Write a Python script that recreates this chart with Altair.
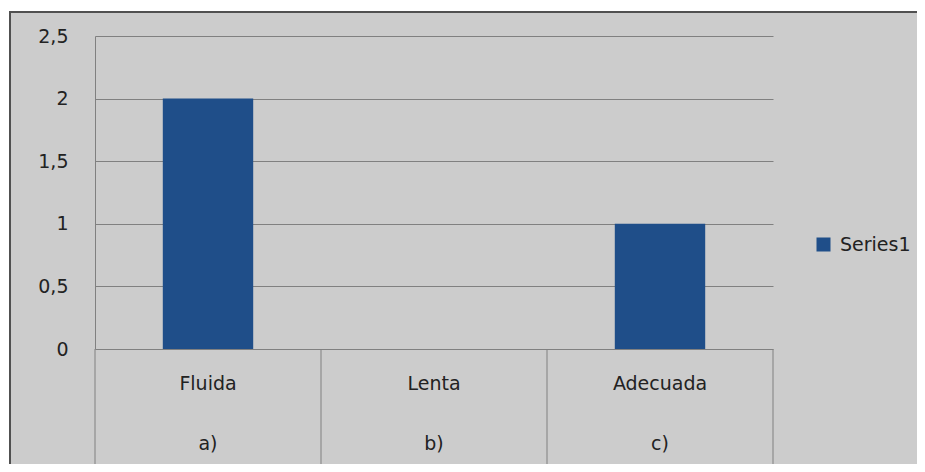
import altair as alt
import pandas as pd

cats = ["Fluida", "Lenta", "Adecuada"]
letters = ["a)", "b)", "c)"]
values = [2, 0, 1]
series = "Series1"
y_ticks = [0, 0.5, 1, 1.5, 2, 2.5]

BAR = "#1F4E89"
GRID = "#808080"
BG = "#CCCCCC"
FONT = "DejaVu Sans"

labels = [c + "\n" + l for c, l in zip(cats, letters)]
df = pd.DataFrame({"label": labels, "value": values, "series": [series] * 3})
order = labels

W, H = 678, 313
xs = alt.Scale(domain=order, paddingInner=0, paddingOuter=0)

x_axis = alt.Axis(title=None, domain=False, ticks=False, tickSize=0, grid=False,
                  labelExpr="split(datum.label, '\\n')", labelLineHeight=60,
                  labelBaseline="middle", labelPadding=34, labelAngle=0,
                  labelFontSize=19, labelFont=FONT, labelColor="#222222")
y_axis = alt.Axis(title=None, values=y_ticks, tickSize=0, ticks=False, domain=True,
                  domainColor=GRID, domainWidth=1, gridColor=GRID, gridWidth=1,
                  labelExpr="replace(toString(datum.value), '.', ',')",
                  labelPadding=27, labelFontSize=19, labelFont=FONT, labelColor="#222222")

base = alt.Chart(df)

bars = base.mark_bar(width=alt.RelativeBandSize(0.4)).encode(
    x=alt.X("label:N", scale=xs, sort=order, axis=x_axis),
    y=alt.Y("value:Q", scale=alt.Scale(domain=[0, 2.5], nice=False), axis=y_axis),
    color=alt.Color("series:N", scale=alt.Scale(range=[BAR]),
                    legend=alt.Legend(title=None, orient="none", legendX=719, legendY=199,
                                      symbolType="square", symbolSize=196, symbolStrokeWidth=0,
                                      labelFontSize=19, labelFont=FONT, labelColor="#222222",
                                      padding=0, labelOffset=7)),
)

seps = base.mark_rule(color=GRID, strokeWidth=1).encode(
    x=alt.X("label:N", scale=xs, sort=order, bandPosition=0),
    y=alt.value(H), y2=alt.value(H + 119),
)
right_sep = alt.Chart(df[df["label"] == labels[-1]]).mark_rule(color=GRID, strokeWidth=1).encode(
    x=alt.X("label:N", scale=xs, sort=order, bandPosition=1),
    y=alt.value(H), y2=alt.value(H + 119),
)

frame_df = pd.DataFrame({"k": [0]})
border_top = alt.Chart(frame_df).mark_rule(color="#505050", strokeWidth=2).encode(
    x=alt.value(-86), x2=alt.value(900), y=alt.value(-24))
border_left = alt.Chart(frame_df).mark_rule(color="#505050", strokeWidth=2).encode(
    x=alt.value(-85), y=alt.value(-25), y2=alt.value(600))
white_top = alt.Chart(frame_df).mark_rule(color="white", strokeWidth=3).encode(
    x=alt.value(-100), x2=alt.value(900), y=alt.value(-26.5))
white_left = alt.Chart(frame_df).mark_rule(color="white", strokeWidth=1).encode(
    x=alt.value(-86.5), y=alt.value(-40), y2=alt.value(600))

chart = alt.layer(bars, seps, right_sep, white_top, white_left, border_top, border_left).properties(
    width=W, height=H,
    autosize=alt.AutoSizeParams(type="none"),
    padding={"left": 87, "top": 28, "right": 909 - 87 - W, "bottom": 456 - 28 - H},
    background=BG,
).configure_view(stroke=None)

chart.save("out.html", embed_options={"renderer": "svg", "actions": False})
